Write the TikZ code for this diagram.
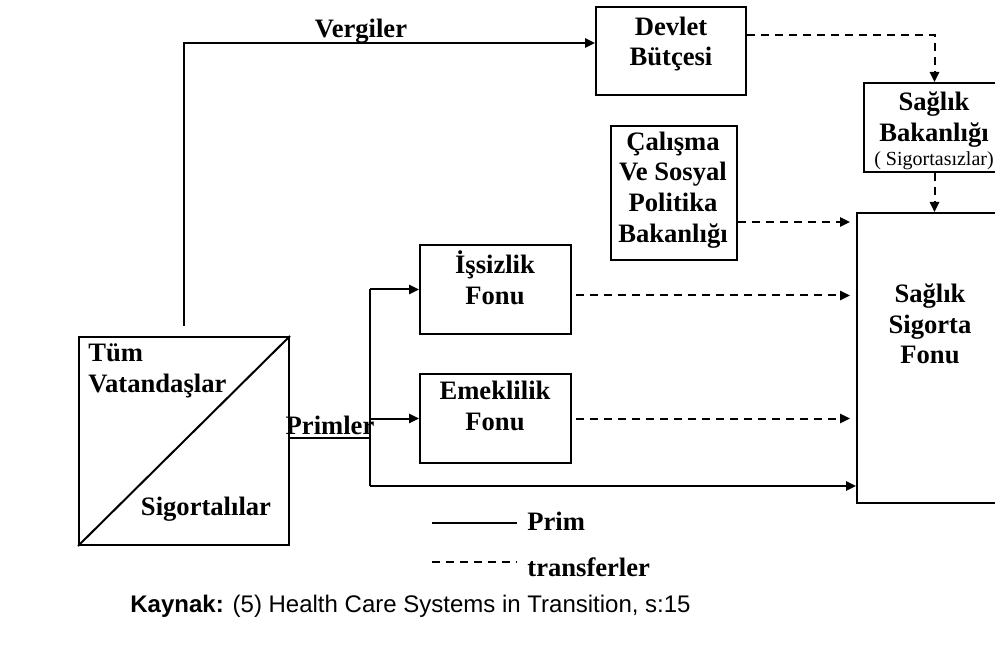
\documentclass[tikz,border=0pt]{standalone}
\usepackage{fontspec}
\setmainfont{Liberation Serif}
\setsansfont{Liberation Sans}
\usetikzlibrary{arrows.meta}
\tikzset{
  kutu/.style={draw, line width=1pt, inner sep=0pt},
  yazi/.style={font=\fontsize{13.3}{15.3}\selectfont\bfseries, align=center, inner sep=0pt},
  prim/.style={line width=1pt},
  transfer/.style={line width=1pt, dash pattern=on 4pt off 3pt},
  ok/.style={-{Triangle[length=5pt,width=4.6pt]}}
}
\begin{document}
\begin{tikzpicture}[x=0.5pt,y=-0.5pt]
    \useasboundingbox (0,0) rectangle (995,646);
    % kutular
    \node [kutu, minimum width=75pt, minimum height=44pt] (devlet) at (671,51) {};
    \node [kutu, minimum width=70.5pt, minimum height=44.5pt] (bakan) at (934.5,127.5) {};
    \node [kutu, minimum width=63pt, minimum height=67pt] (calisma) at (674,193) {};
    \node [kutu, minimum width=75.5pt, minimum height=44.5pt] (issiz) at (495.5,289.5) {};
    \node [kutu, minimum width=75.5pt, minimum height=44.5pt] (emekli) at (495.5,418.5) {};
    \node [kutu, minimum width=78pt, minimum height=145pt] (ssf) at (935,358) {};
    \node [kutu, minimum width=105pt, minimum height=104pt] (tum) at (184,441) {};
    \draw [prim] (tum.south west) -- (tum.north east);
    % yazilar
    \node [yazi] (devletT) at (671,44) {Devlet\\Bütçesi};
    \node [yazi] (bakanT) at (934,131) {Sağlık\\Bakanlığı\\[-3pt]{\fontsize{10}{11}\selectfont\mdseries ( Sigortasızlar)}};
    \node [yazi] (calismaT) at (673,190) {Çalışma\\Ve Sosyal\\Politika\\Bakanlığı};
    \node [yazi] (issizT) at (495,278) {İşsizlik\\Fonu};
    \node [yazi] (emekliT) at (495,406) {Emeklilik\\Fonu};
    \node [yazi] (ssfT) at (930,324) {Sağlık\\Sigorta\\Fonu};
    \node [yazi, align=left, anchor=west] (tumT) at (88,371) {Tüm\\Vatandaşlar};
    \node [yazi] (sigortaliT) at (206,509) {Sigortalılar};
    \node [yazi] (vergiT) at (361,31) {Vergiler};
    \node [yazi] (primT) at (330,425) {Primler};
    % primler
    \coordinate (ayrim) at (370,438);
    \coordinate (alt) at (370,486);
    \draw [prim] (tum.east |- ayrim) -- (ayrim);
    \draw [prim] (ayrim |- issiz.west) -- (alt);
    \draw [prim, ok] (ayrim |- issiz.west) -- (issiz.west);
    \draw [prim, ok] (ayrim |- emekli.west) -- (emekli.west);
    \draw [prim, ok] (alt) -- (alt -| ssf.west);
    % vergiler
    \draw [prim, ok] ([yshift=5pt]tum.north) |- ([yshift=4pt]devlet.west);
    % transferler
    \draw [transfer, ok] ([yshift=8pt]devlet.east) -| (bakan.north);
    \draw [transfer, ok] (bakan.south) -- (ssf.north -| bakan.south);
    \draw [transfer, ok, shorten >=3pt] ([yshift=-14.5pt]calisma.east) -- ([yshift=-14.5pt]calisma.east -| ssf.west);
    \draw [transfer, ok, shorten <=2pt, shorten >=3pt] ([yshift=-3pt]issiz.east) -- ([yshift=-3pt]issiz.east -| ssf.west);
    \draw [transfer, ok, shorten <=2pt, shorten >=3pt] (emekli.east) -- (emekli.east -| ssf.west);
    % aciklama
    \coordinate (p1) at (432,523);
    \coordinate (p2) at (517,523);
    \coordinate (t1) at (432,562);
    \coordinate (t2) at (517,562);
    \draw [prim] (p1) -- (p2);
    \draw [transfer] (t1) -- (t2);
    \node [yazi, anchor=west] (primL) at (527,521) {Prim};
    \node [yazi, anchor=west] (transferL) at (527,567) {transferler};
    \node [anchor=west, inner sep=0pt, font=\fontsize{12}{14}\selectfont\sffamily] (kaynak) at (130,606) {\textbf{Kaynak:} (5) Health Care Systems in Transition, s:15};
\end{tikzpicture}
\end{document}
